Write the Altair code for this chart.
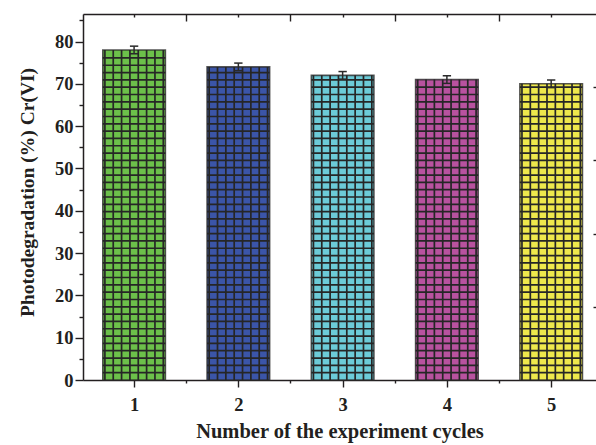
import altair as alt
import pandas as pd

# ---- data ----
cycles = [1, 2, 3, 4, 5]
values = [78.0, 74.0, 72.0, 71.0, 70.0]
errors = [0.9, 0.9, 0.9, 0.9, 0.9]
colors = ["#6cc04a", "#3b55a8", "#6ccbd8", "#b8529f", "#eee84c"]
x_ticks = [1, 2, 3, 4, 5]
x_minor = [1.5, 2.5, 3.5, 4.5]
y_ticks = [0, 10, 20, 30, 40, 50, 60, 70, 80]
y_minor = [5, 15, 25, 35, 45, 55, 65, 75, 85]
right_ticks = [17.3, 34.6, 51.9, 69.2]

BAR_W = 0.6      # bar width in x units
CELL_W = 0.08    # grid-pattern pitch (x units)
CELL_H = 1.73    # grid-pattern pitch (y units)
CAP_W = 0.04

FONT = "Liberation Serif"
INK = "#231f20"

bars = pd.DataFrame({
    "cycle": cycles,
    "value": values,
    "lo": [c - BAR_W / 2 for c in cycles],
    "hi": [c + BAR_W / 2 for c in cycles],
    "zero": [0.0] * len(cycles),
})

hrows = []
vrows = []
for c, v in zip(cycles, values):
    k = 1
    while k * CELL_H < v - 0.4:
        hrows.append({"lo": c - BAR_W / 2, "hi": c + BAR_W / 2, "yl": k * CELL_H})
        k += 1
    for j in range(8):
        vrows.append({"xl": c + (j - 3.5) * CELL_W, "zero": 0.0, "top": v})
hlines = pd.DataFrame(hrows)
vlines = pd.DataFrame(vrows)

err = pd.DataFrame({
    "cycle": cycles,
    "elo": [v - e for v, e in zip(values, errors)],
    "ehi": [v + e for v, e in zip(values, errors)],
})
caps = pd.DataFrame(
    [{"clo": c - CAP_W, "chi": c + CAP_W, "ey": v + s * e}
     for c, v, e in zip(cycles, values, errors) for s in (-1, 1)]
)

xscale = alt.Scale(domain=[0.51, 5.43], nice=False, zero=False)
yscale = alt.Scale(domain=[0, 86.5], nice=False, zero=False)

common = dict(tickColor=INK, tickWidth=1.4, domainColor=INK, domainWidth=1.5,
              grid=False)

ax_bottom_major = alt.Axis(orient="bottom", values=x_ticks, tickSize=7, format="d",
                           labelFontSize=18.5, labelFont=FONT, labelFontWeight="bold",
                           labelColor=INK, labelPadding=8,
                           title="Number of the experiment cycles",
                           titleFont=FONT, titleFontSize=20.5, titleFontWeight="bold",
                           titleColor=INK, titlePadding=8, **common)
ax_bottom_minor = alt.Axis(orient="bottom", values=x_minor, tickSize=3, labels=False,
                           domain=False, title=None, **common)
ax_top_line = alt.Axis(orient="top", ticks=False, labels=False, domain=True,
                       title=None, **common)
ax_top_long = alt.Axis(orient="top", values=x_minor, tickSize=7, offset=-7,
                       labels=False, domain=False, title=None, **common)
ax_top_short = alt.Axis(orient="top", values=x_ticks, tickSize=3, offset=-3,
                        labels=False, domain=False, title=None, **common)

ax_left_major = alt.Axis(orient="left", values=y_ticks, tickSize=8, format="d",
                         labelFontSize=18.5, labelFont=FONT, labelFontWeight="bold",
                         labelColor=INK, labelPadding=2,
                         title="Photodegradation (%) Cr(VI)",
                         titleFont=FONT, titleFontSize=19.5, titleFontWeight="bold",
                         titleColor=INK, titlePadding=17, titleY=178, **common)
ax_left_minor = alt.Axis(orient="left", values=y_minor, tickSize=4, labels=False,
                         domain=False, title=None, **common)
ax_right = alt.Axis(orient="right", values=right_ticks, tickSize=3, offset=-3,
                    labels=False, domain=False, title=None, **common)

bar_layer = alt.Chart(bars).mark_rect(stroke="#2a2a2a", strokeWidth=1.6,
                                      strokeOpacity=0.8).encode(
    x=alt.X("lo:Q", scale=xscale, axis=ax_bottom_major),
    x2="hi:Q",
    y=alt.Y("zero:Q", scale=yscale, axis=ax_left_major),
    y2="value:Q",
    color=alt.Color("cycle:N", scale=alt.Scale(domain=cycles, range=colors),
                    legend=None),
)

h_layer = alt.Chart(hlines).mark_rule(color="#262626", strokeWidth=1.7).encode(
    x=alt.X("lo:Q", scale=xscale, axis=ax_bottom_minor),
    x2="hi:Q",
    y=alt.Y("yl:Q", scale=yscale, axis=ax_left_minor),
)

v_layer = alt.Chart(vlines).mark_rule(color="#262626", strokeWidth=1.7).encode(
    x=alt.X("xl:Q", scale=xscale, axis=ax_top_line),
    y=alt.Y("zero:Q", scale=yscale, axis=ax_right),
    y2="top:Q",
)

err_layer = alt.Chart(err).mark_rule(color="#2a2a2a", strokeWidth=1.5).encode(
    x=alt.X("cycle:Q", scale=xscale, axis=ax_top_long),
    y=alt.Y("elo:Q", scale=yscale, axis=None),
    y2="ehi:Q",
)

cap_layer = alt.Chart(caps).mark_rule(color="#2a2a2a", strokeWidth=1.5).encode(
    x=alt.X("clo:Q", scale=xscale, axis=ax_top_short),
    x2="chi:Q",
    y=alt.Y("ey:Q", scale=yscale, axis=None),
)

chart = alt.layer(bar_layer, h_layer, v_layer, err_layer, cap_layer).resolve_axis(
    x="independent", y="independent"
).resolve_scale(x="shared", y="shared").properties(
    width=513, height=366,
    autosize=alt.AutoSizeParams(type="none"),
    padding={"left": 83, "top": 14, "right": 0, "bottom": 65},
).configure_view(stroke=None).configure(background="white")

chart.save("out.html", embed_options={"renderer": "svg", "actions": False})
